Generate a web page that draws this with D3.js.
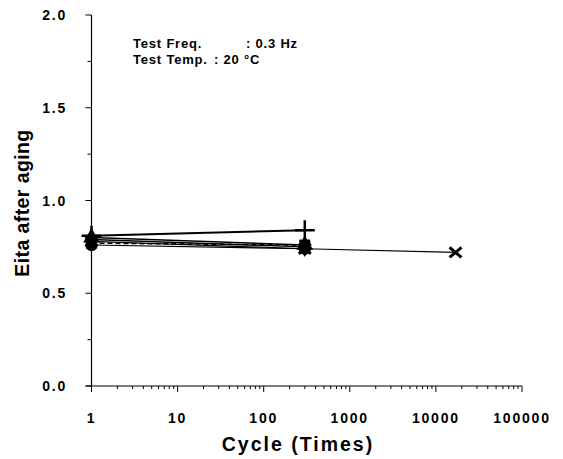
<!DOCTYPE html>
<html>
<head>
<meta charset="utf-8">
<script src="https://cdn.jsdelivr.net/npm/d3@7"></script>
<style>
  body { margin: 0; background: #fff; }
  text { font-family: "Liberation Sans", Arial, sans-serif; font-weight: bold; fill: #000; }
</style>
</head>
<body>
<div id="chart"></div>
<script>
// data
const xTicks = [1, 10, 100, 1000, 10000, 100000];
const yTicks = [0, 0.5, 1.0, 1.5, 2.0];

const diamondCycles = [1, 300];
const diamondEita = [0.79, 0.75];
const squareCycles = [1, 300];
const squareEita = [0.77, 0.76];
const triangleCycles = [1, 300];
const triangleEita = [0.80, 0.76];
const crossCycles = [1, 300, 16900];
const crossEita = [0.78, 0.74, 0.72];
const plusCycles = [1, 300];
const plusEita = [0.81, 0.84];
const circleCycles = [1, 300];
const circleEita = [0.76, 0.74];

const series = [
  {name: "diamond", x: diamondCycles, y: diamondEita, dash: null, w: 1.5},
  {name: "square", x: squareCycles, y: squareEita, dash: "5,3", w: 1.5},
  {name: "triangle", x: triangleCycles, y: triangleEita, dash: null, w: 1.5},
  {name: "cross", x: crossCycles, y: crossEita, dash: null, w: 1.2},
  {name: "plus", x: plusCycles, y: plusEita, dash: null, w: 2},
  {name: "circle", x: circleCycles, y: circleEita, dash: null, w: 1.2}
];

const W = 563, H = 459;
const svg = d3.select("#chart").append("svg")
  .attr("width", W).attr("height", H);

const x = d3.scaleLog().domain([1, 100000]).range([91.5, 522]);
const y = d3.scaleLinear().domain([0, 2]).range([386, 15]);

// y axis
svg.append("line")
  .attr("x1", x(1)).attr("x2", x(1))
  .attr("y1", y(2)).attr("y2", y(0))
  .attr("stroke", "#000").attr("stroke-width", 1.2);
const yMinor = d3.range(0, 2.01, 0.25);
svg.selectAll(".ytick").data(yMinor).enter().append("line")
  .attr("x1", d => x(1) - (d % 0.5 === 0 ? 6 : 4))
  .attr("x2", x(1))
  .attr("y1", d => y(d)).attr("y2", d => y(d))
  .attr("stroke", "#000").attr("stroke-width", 1);
svg.selectAll(".ylab").data(yTicks).enter().append("text")
  .attr("x", 67).attr("y", d => y(d) + 5)
  .attr("text-anchor", "end")
  .style("font-size", "14px")
  .style("letter-spacing", "1.8px")
  .text(d => d.toFixed(1));

// x axis
svg.append("line")
  .attr("x1", x(1) - 6).attr("x2", x(100000))
  .attr("y1", y(0)).attr("y2", y(0))
  .attr("stroke", "#000").attr("stroke-width", 1.2);
const xMinor = [];
for (let e = 0; e < 5; e++) {
  for (let m = 2; m <= 9; m++) xMinor.push(m * Math.pow(10, e));
}
svg.selectAll(".xminor").data(xMinor).enter().append("line")
  .attr("x1", d => x(d)).attr("x2", d => x(d))
  .attr("y1", y(0)).attr("y2", y(0) + 3)
  .attr("stroke", "#000").attr("stroke-width", 1);
svg.selectAll(".xtick").data(xTicks).enter().append("line")
  .attr("x1", d => x(d)).attr("x2", d => x(d))
  .attr("y1", y(0)).attr("y2", y(0) + 6)
  .attr("stroke", "#000").attr("stroke-width", 1);
svg.selectAll(".xlab").data(xTicks).enter().append("text")
  .attr("x", d => x(d)).attr("y", 423)
  .attr("text-anchor", "middle")
  .style("font-size", "14px")
  .style("letter-spacing", "1.8px")
  .text(d => String(d));

// axis titles
svg.append("text")
  .attr("x", 298).attr("y", 451)
  .attr("text-anchor", "middle")
  .style("font-size", "19.5px")
  .style("letter-spacing", "2px")
  .text("Cycle (Times)");
svg.append("text")
  .attr("transform", "translate(29,203) rotate(-90)")
  .attr("text-anchor", "middle")
  .style("font-size", "19.5px")
  .style("letter-spacing", "0.4px")
  .text("Eita after aging");

// annotation
const note = svg.append("g").style("font-size", "13px").style("letter-spacing", "0.8px");
note.append("text").attr("x", 133).attr("y", 48).text("Test Freq.");
note.append("text").attr("x", 246).attr("y", 48).text(": 0.3 Hz");
note.append("text").attr("x", 133).attr("y", 64).text("Test Temp.");
note.append("text").attr("x", 214).attr("y", 64).text(": 20 \u00B0C");

// lines
const line = d3.line().x(d => x(d[0])).y(d => y(d[1]));
series.forEach(s => {
  const pts = s.x.map((c, i) => [c, s.y[i]]);
  svg.append("path")
    .attr("d", line(pts))
    .attr("fill", "none")
    .attr("stroke", "#000")
    .attr("stroke-width", s.w)
    .attr("stroke-dasharray", s.dash);
});

// markers
const sym = {
  diamond: d3.symbolDiamond, square: d3.symbolSquare,
  triangle: d3.symbolTriangle, circle: d3.symbolCircle
};
series.forEach(s => {
  const pts = s.x.map((c, i) => [c, s.y[i]]);
  const g = svg.append("g");
  pts.forEach(p => {
    const cx = x(p[0]), cy = y(p[1]);
    if (s.name === "plus") {
      g.append("path")
        .attr("d", `M${cx - 10},${cy}H${cx + 10}M${cx},${cy - 10}V${cy + 10}`)
        .attr("stroke", "#000").attr("stroke-width", 2.5).attr("fill", "none");
    } else if (s.name === "cross") {
      g.append("path")
        .attr("d", `M${cx - 6},${cy - 5}L${cx + 6},${cy + 5}M${cx - 6},${cy + 5}L${cx + 6},${cy - 5}`)
        .attr("stroke", "#000").attr("stroke-width", 3).attr("fill", "none");
    } else {
      g.append("path")
        .attr("d", d3.symbol().type(sym[s.name]).size(120)())
        .attr("transform", `translate(${cx},${cy})`)
        .attr("fill", "#000");
    }
  });
});
</script>
</body>
</html>
